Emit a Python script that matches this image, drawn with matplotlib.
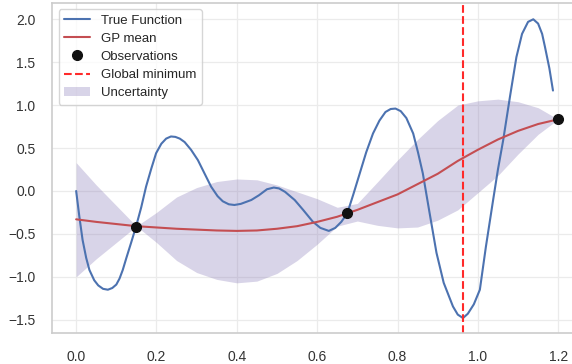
import matplotlib
matplotlib.use("Agg")
import matplotlib.pyplot as plt
import seaborn as sns

# true function
x_true = [0.000, 0.008, 0.016, 0.025, 0.033, 0.045, 0.055, 0.067, 0.079, 0.090,
          0.100, 0.108, 0.116, 0.125, 0.137, 0.149, 0.162, 0.174, 0.187, 0.199,
          0.212, 0.224, 0.236, 0.247, 0.258, 0.270, 0.286, 0.303, 0.320, 0.336,
          0.352, 0.365, 0.380, 0.394, 0.410, 0.436, 0.455, 0.475, 0.492, 0.505,
          0.520, 0.544, 0.565, 0.589, 0.608, 0.629, 0.645, 0.660, 0.675, 0.690,
          0.706, 0.722, 0.739, 0.755, 0.770, 0.783, 0.795, 0.808, 0.822, 0.839,
          0.851, 0.863, 0.880, 0.897, 0.915, 0.938, 0.950, 0.963, 0.975, 0.990,
          1.005, 1.020, 1.038, 1.050, 1.063, 1.080, 1.096, 1.110, 1.125, 1.138,
          1.150, 1.160, 1.167, 1.178, 1.187]
y_true = [0.00, -0.30, -0.57, -0.78, -0.92, -1.04, -1.10, -1.14, -1.15, -1.13,
          -1.09, -1.02, -0.92, -0.78, -0.60, -0.415, -0.19, 0.05, 0.26, 0.44,
          0.55, 0.61, 0.635, 0.63, 0.61, 0.57, 0.48, 0.36, 0.20, 0.05,
          -0.06, -0.12, -0.155, -0.163, -0.15, -0.105, -0.05, 0.02, 0.04, 0.03,
          -0.01, -0.105, -0.22, -0.357, -0.43, -0.465, -0.43, -0.36, -0.26, -0.04,
          0.205, 0.45, 0.67, 0.82, 0.92, 0.955, 0.96, 0.93, 0.85, 0.67,
          0.45, 0.205, -0.26, -0.72, -1.07, -1.345, -1.44, -1.48, -1.43, -1.32,
          -1.15, -0.65, -0.105, 0.25, 0.59, 1.10, 1.56, 1.83, 1.97, 2.00,
          1.95, 1.83, 1.68, 1.43, 1.17]

# GP posterior
x_gp = [0.00, 0.05, 0.10, 0.15, 0.20, 0.25, 0.30, 0.35, 0.40, 0.45, 0.50, 0.55,
        0.60, 0.65, 0.70, 0.75, 0.80, 0.85, 0.90, 0.95, 1.00, 1.05, 1.10, 1.15, 1.20]
gp_mean = [-0.33, -0.36, -0.385, -0.41, -0.425, -0.44, -0.45, -0.46, -0.465, -0.46,
           -0.44, -0.41, -0.36, -0.30, -0.22, -0.13, -0.04, 0.08, 0.20, 0.35,
           0.48, 0.60, 0.70, 0.78, 0.835]
gp_upper = [0.33, 0.07, -0.17, -0.41, -0.25, -0.07, 0.04, 0.11, 0.14, 0.13,
            0.07, -0.01, -0.09, -0.19, -0.145, 0.105, 0.36, 0.60, 0.82, 1.00,
            1.05, 1.07, 1.04, 0.97, 0.835]
gp_lower = [-1.00, -0.79, -0.60, -0.41, -0.60, -0.81, -0.95, -1.03, -1.07, -1.05,
            -0.96, -0.81, -0.62, -0.41, -0.35, -0.40, -0.43, -0.42, -0.34, -0.22,
            -0.02, 0.18, 0.43, 0.66, 0.835]

x_obs = [0.149, 0.675, 1.200]
y_obs = [-0.415, -0.26, 0.835]

x_min = 0.963

sns.set_theme(style="whitegrid")
plt.rcParams['font.family'] = ['Liberation Sans', 'DejaVu Sans']

fig = plt.figure(figsize=(5.72, 3.64), dpi=100)
ax = fig.add_axes([0.091, 0.085, 0.927, 0.908])

ax.plot(x_true, y_true, color='#4C72B0', lw=1.5, label='True Function')
ax.plot(x_gp, gp_mean, color='#C44E52', lw=1.5, label='GP mean')
ax.plot(x_obs, y_obs, 'o', color='#111111', markersize=7, label='Observations')
ax.axvline(x_min, color='#ff2a2a', ls='--', lw=1.5, label='Global minimum')
ax.fill_between(x_gp, gp_lower, gp_upper, color='#8172B3', alpha=0.3,
                lw=0, label='Uncertainty')

ax.set_xlim(-0.06, 1.26)
ax.set_ylim(-1.655, 2.195)
ax.set_xticks([0.0, 0.2, 0.4, 0.6, 0.8, 1.0, 1.2])
ax.set_yticks([-1.5, -1.0, -0.5, 0.0, 0.5, 1.0, 1.5, 2.0])
ax.tick_params(labelsize=10, colors='#333333', pad=6)
ax.grid(color='#ebebeb', lw=0.9)
for s in ax.spines.values():
    s.set_color('#cccccc')
    s.set_linewidth(1.2)

ax.legend(loc='upper left', fontsize=9.5, frameon=True, borderaxespad=0.5,
          handlelength=2.0, labelspacing=0.45)

fig.savefig('out.png', dpi=100)
